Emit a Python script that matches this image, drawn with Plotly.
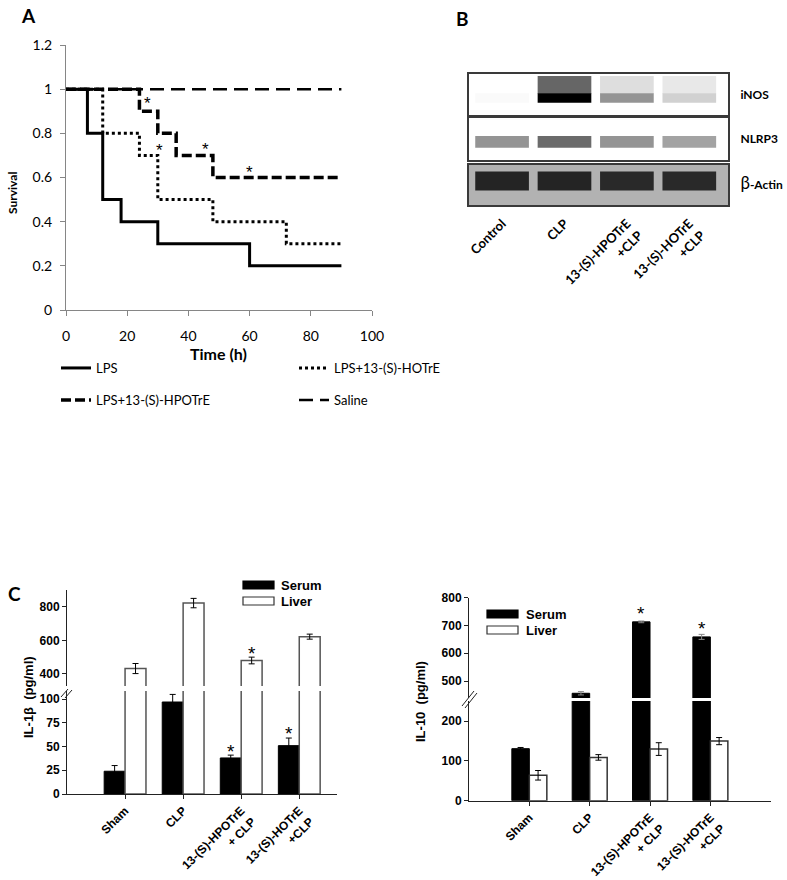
import plotly.graph_objects as go

W, H = 787, 880


def px(x):
    return x / W


def py(y):
    return 1 - y / H


# ---------------- Panel A: survival ----------------
lps_t = [0, 7, 12, 18, 30, 60, 90]
lps_s = [1, 0.8, 0.5, 0.4, 0.3, 0.2, 0.2]
hotre_t = [0, 12, 24, 30, 48, 72, 90]
hotre_s = [1, 0.8, 0.7, 0.5, 0.4, 0.3, 0.3]
hpotre_t = [0, 24, 30, 36, 48, 90]
hpotre_s = [1, 0.9, 0.8, 0.7, 0.6, 0.6]
saline_t = [0, 90]
saline_s = [1, 1]
star_a_t = [26.5, 30.5, 45.5, 60]
star_a_s = [0.955, 0.74, 0.745, 0.64]
a_xticks = [0, 20, 40, 60, 80, 100]
a_yticks = [0, 0.2, 0.4, 0.6, 0.8, 1, 1.2]

# ---------------- Panel B: western blot (band intensities 0..1) ----------------
lanes = ['Control', 'CLP', '13-(S)-HPOTrE<br>+CLP', '13-(S)-HOTrE<br>+CLP']
lane_pos = [1, 2, 3, 4]
inos_band = [0.02, 1.0, 0.42, 0.18]
inos_smear = [0.0, 0.6, 0.13, 0.09]
nlrp3_band = [0.42, 0.58, 0.42, 0.36]
actin_band = [0.86, 0.86, 0.84, 0.84]
actin_bg = 0.30
blot_rows = ['iNOS', 'NLRP3', '<span style="font-size:17px;font-weight:normal">β</span>-Actin']

# ---------------- Panel C: cytokines ----------------
groups = ['Sham', 'CLP', '13-(S)-HPOTrE<br>+ CLP', '13-(S)-HOTrE<br>+CLP']
il1b_serum = [24, 97, 38, 51]
il1b_serum_err = [6, 8, 3, 8]
il1b_liver = [432, 822, 480, 622]
il1b_liver_err = [30, 28, 20, 15]
il1b_star_x = [1.82, 2.18, 2.82]
il1b_star_y = [50.6, 549, 68.6]
il1b_star_axis = ['y5', 'y6', 'y5']
il10_serum = [131, 456, 713, 659]
il10_serum_err = [3, 6, 3, 9]
il10_liver = [64, 109, 130, 150]
il10_liver_err = [12, 7, 16, 9]
il10_star_x = [1.855, 2.855]
il10_star_y = [760, 706]

fig = go.Figure()

# ---- A traces
fig.add_trace(go.Scatter(x=lps_t, y=lps_s, mode='lines', name='LPS', legend='legend',
                         line=dict(shape='hv', color='black', width=3), xaxis='x', yaxis='y'))
fig.add_trace(go.Scatter(x=hotre_t, y=hotre_s, mode='lines', name='LPS+13-(S)-HOTrE', legend='legend2',
                         line=dict(shape='hv', color='black', width=3, dash='3px,3px'), xaxis='x', yaxis='y'))
fig.add_trace(go.Scatter(x=hpotre_t, y=hpotre_s, mode='lines', name='LPS+13-(S)-HPOTrE', legend='legend3',
                         line=dict(shape='hv', color='black', width=3.5, dash='10px,4px'), xaxis='x', yaxis='y'))
fig.add_trace(go.Scatter(x=saline_t, y=saline_s, mode='lines', name='Saline', legend='legend4',
                         line=dict(shape='hv', color='black', width=2.5, dash='14px,7px'), xaxis='x', yaxis='y'))

# ---- B traces
gray_scale = [[0, '#ffffff'], [1, '#000000']]


def band(xa, ya, inten, base, height, width=0.86):
    fig.add_trace(go.Bar(x=lane_pos, y=[height] * 4, base=[base] * 4, width=width,
                         marker=dict(color=inten, colorscale=gray_scale, cmin=0, cmax=1, line=dict(width=0)),
                         xaxis=xa, yaxis=ya, showlegend=False, hoverinfo='skip'))


band('x2', 'y2', inos_smear, 0.52, 0.43)
band('x2', 'y2', inos_band, 0.30, 0.23)
band('x3', 'y3', nlrp3_band, 0.29, 0.28)
band('x4', 'y4', actin_band, 0.36, 0.48)

# ---- C traces
wl = 0.36
fig.add_trace(go.Bar(x=[0, 1, 2, 3], y=il1b_serum, width=wl, offset=-wl, xaxis='x5', yaxis='y5',
                     marker=dict(color='black', line=dict(color='black', width=1)), showlegend=False,
                     error_y=dict(type='data', array=il1b_serum_err, color='black', thickness=1, width=3)))
fig.add_trace(go.Bar(x=[0, 1, 2, 3], y=il1b_liver, width=wl, offset=0, xaxis='x5', yaxis='y5',
                     marker=dict(color='white', line=dict(color='#555555', width=1.5)), showlegend=False))
fig.add_trace(go.Bar(x=[0, 1, 2, 3], y=il1b_liver, width=wl, offset=0, xaxis='x5', yaxis='y6',
                     marker=dict(color='white', line=dict(color='#555555', width=1.5)), showlegend=False,
                     error_y=dict(type='data', array=il1b_liver_err, color='black', thickness=1, width=3)))

wr = 0.29
fig.add_trace(go.Bar(x=[0, 1, 2, 3], y=il10_serum, width=wr, offset=-wr, xaxis='x6', yaxis='y7',
                     marker=dict(color='black', line=dict(color='black', width=1)), showlegend=False,
                     error_y=dict(type='data', array=il10_serum_err, color='black', thickness=1, width=3)))
fig.add_trace(go.Bar(x=[0, 1, 2, 3], y=il10_serum, width=wr, offset=-wr, xaxis='x6', yaxis='y8',
                     marker=dict(color='black', line=dict(color='black', width=1)), showlegend=False,
                     error_y=dict(type='data', array=il10_serum_err, color='#888888', thickness=1, width=3)))
fig.add_trace(go.Bar(x=[0, 1, 2, 3], y=il10_liver, width=wr, offset=0, xaxis='x6', yaxis='y7',
                     marker=dict(color='white', line=dict(color='#333333', width=1.5)), showlegend=False,
                     error_y=dict(type='data', array=il10_liver_err, color='black', thickness=1, width=3)))

# ---------------- Layout ----------------
lato = 'Lato, Carlito, sans-serif'
arial = 'Liberation Sans, Arial, sans-serif'
a_line = '#868686'

axA = dict(showgrid=False, zeroline=False, showline=True, linecolor=a_line, linewidth=1.2,
           ticks='outside', ticklen=5, tickcolor=a_line, tickfont=dict(family=lato, size=14, color='black'))

blot_line = '#3a3a3a'
blot_x = dict(domain=[px(469), px(728)], range=[0.47, 4.62], showgrid=False, zeroline=False,
              showline=True, mirror=True, linecolor=blot_line, linewidth=2, ticks='', showticklabels=False)
blot_y = dict(range=[0, 1], showgrid=False, zeroline=False, showline=True, mirror=True,
              linecolor=blot_line, linewidth=2, ticks='', side='right', tickvals=[0.5],
              ticklabelstandoff=8, tickfont=dict(family=lato, size=12, color='black', weight='bold'))

c_font = dict(family=arial, size=12, color='black', weight='bold')
axC = dict(showgrid=False, zeroline=False, showline=True, linecolor='#222222', linewidth=1,
           ticks='outside', ticklen=4, tickcolor='#222222', tickfont=c_font)

leg_common = dict(xanchor='left', yanchor='middle', bgcolor='rgba(0,0,0,0)',
                  font=dict(family=lato, size=13, color='black'), itemwidth=30)

fig.update_layout(
    width=W, height=H, margin=dict(l=0, r=0, t=0, b=0, autoexpand=False),
    paper_bgcolor='white', plot_bgcolor='white', barmode='overlay',
    xaxis=dict(axA, domain=[px(66), px(372)], anchor='y', range=[0, 100], tickvals=a_xticks,
               ticklabelstandoff=8),
    yaxis=dict(axA, domain=[py(310), py(45)], anchor='x', range=[0, 1.2], tickvals=a_yticks,
               ticklabelstandoff=5),
    xaxis2=dict(blot_x, anchor='y2'),
    yaxis2=dict(blot_y, domain=[py(115), py(74)], anchor='x2', ticktext=[blot_rows[0]]),
    xaxis3=dict(blot_x, anchor='y3'),
    yaxis3=dict(blot_y, domain=[py(160), py(118)], anchor='x3', ticktext=[blot_rows[1]]),
    xaxis4=dict(blot_x, anchor='y4', showticklabels=True, tickvals=lane_pos, ticktext=lanes,
                tickangle=-45, tickfont=dict(family=lato, size=13, color='black', weight='bold'),
                ticklabelstandoff=4),
    yaxis4=dict(blot_y, domain=[py(205), py(165)], anchor='x4', ticktext=[blot_rows[2]]),
    xaxis5=dict(axC, domain=[px(67), px(337)], anchor='y5', range=[-1, 3.65], tickvals=[0, 1, 2, 3],
                ticktext=groups, tickangle=-45),
    yaxis5=dict(axC, domain=[py(794), py(691)], anchor='x5', range=[0, 108.6], tickvals=[0, 25, 50, 75, 100]),
    yaxis6=dict(axC, domain=[py(686), py(590)], anchor='x5', range=[328, 900], tickvals=[400, 600, 800]),
    xaxis6=dict(axC, domain=[px(469), px(770.7)], anchor='y7', range=[-1, 4], tickvals=[0, 1, 2, 3],
                ticktext=groups, tickangle=-45),
    yaxis7=dict(axC, domain=[py(800.7), py(701)], anchor='x6', range=[0, 251], tickvals=[0, 100, 200]),
    yaxis8=dict(axC, domain=[py(698), py(597.7)], anchor='x6', range=[439, 800], tickvals=[500, 600, 700, 800]),
    legend=dict(leg_common, x=px(56), y=py(368)),
    legend2=dict(leg_common, x=px(294), y=py(368)),
    legend3=dict(leg_common, x=px(56), y=py(400)),
    legend4=dict(leg_common, x=px(294), y=py(400)),
)

shapes = []
# beta-actin membrane background
shapes.append(dict(type='rect', xref='x4 domain', yref='y4 domain', x0=0, x1=1, y0=0, y1=1,
                   fillcolor='rgb(%d,%d,%d)' % ((int(255 * (1 - actin_bg)),) * 3), line=dict(width=0),
                   layer='below'))
# axis break marks
for (x0, y0, x1, y1) in [(61, 697, 68, 689), (65, 698, 72, 690)]:
    shapes.append(dict(type='line', xref='paper', yref='paper', x0=px(x0), y0=py(y0), x1=px(x1), y1=py(y1),
                       line=dict(color='#222222', width=1)))
for (x0, y0, x1, y1) in [(462, 706, 474, 691), (465, 708, 477, 693)]:
    shapes.append(dict(type='line', xref='paper', yref='paper', x0=px(x0), y0=py(y0), x1=px(x1), y1=py(y1),
                       line=dict(color='#222222', width=1)))
# legend keys for panel C
for (lx, ly, fill, edge) in [(243, 585, 'black', 'black'), (243, 601, 'white', '#333333'),
                             (487, 614, 'black', 'black'), (487, 630, 'white', '#333333')]:
    shapes.append(dict(type='rect', xref='paper', yref='paper', x0=px(lx), x1=px(lx + 31),
                       y0=py(ly + 4), y1=py(ly - 4), fillcolor=fill, line=dict(color=edge, width=1.2)))
fig.update_layout(shapes=shapes)

ann = []


def note(text, x, y, size, family, xanchor='center', angle=0):
    ann.append(dict(text=text, x=px(x), y=py(y), xref='paper', yref='paper', showarrow=False,
                    xanchor=xanchor, yanchor='middle', textangle=angle,
                    font=dict(family=family, size=size, color='black')))


# panel letters
for (t, x, y) in [('A', 28, 15), ('B', 462, 18), ('C', 14, 593)]:
    note('<b>%s</b>' % t, x, y, 19, lato)
# panel A titles
note('<b>Survival</b>', 12, 193, 12, lato, angle=-90)
note('<b>Time (h)</b>', 218, 353, 16, lato)
# panel A stars
for xs, ys in zip(star_a_t, star_a_s):
    ann.append(dict(text='*', x=xs, y=ys, xref='x', yref='y', showarrow=False, yshift=-4,
                    xanchor='center', yanchor='middle', font=dict(family=arial, size=17, color='black')))
# panel C stars
for xs, ys, ya in zip(il1b_star_x, il1b_star_y, il1b_star_axis):
    ann.append(dict(text='*', x=xs, y=ys, xref='x5', yref=ya, showarrow=False, yshift=-5,
                    xanchor='center', yanchor='middle', font=dict(family=arial, size=19, color='black')))
for xs, ys in zip(il10_star_x, il10_star_y):
    ann.append(dict(text='*', x=xs, y=ys, xref='x6', yref='y8', showarrow=False, yshift=-5,
                    xanchor='center', yanchor='middle', font=dict(family=arial, size=19, color='black')))
# panel C axis titles
note('<b>IL-1β  (pg/ml)</b>', 28, 697, 13, arial, angle=-90)
note('<b>IL-10  (pg/ml)</b>', 420, 702, 13, arial, angle=-90)
# panel C legend labels
for (t, x, y) in [('Serum', 279, 585), ('Liver', 279, 601), ('Serum', 524, 614), ('Liver', 524, 630)]:
    note('<b>%s</b>' % t, x, y, 13, arial, xanchor='left')
fig.update_layout(annotations=ann)

fig.write_html('out.html', config={'displayModeBar': False},
               post_script="document.body.style.margin='0px';document.body.style.overflow='hidden';")
